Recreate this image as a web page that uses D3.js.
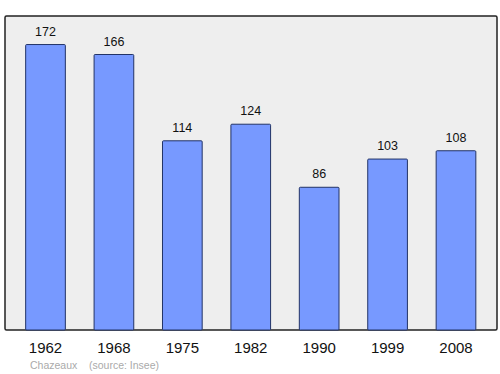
<!DOCTYPE html>
<html>
<head>
<meta charset="utf-8">
<script src="https://cdn.jsdelivr.net/npm/d3@7"></script>
<style>
  body { margin: 0; background: #fff; }
  text { font-family: "Liberation Sans", Arial, sans-serif; }
</style>
</head>
<body>
<div id="chart"></div>
<script>
// data
const years = ["1962", "1968", "1975", "1982", "1990", "1999", "2008"];
const population = [172, 166, 114, 124, 86, 103, 108];
const place_name = "Chazeaux";
const source_text = "(source: Insee)";

// chart properties
let WIDTH = 500;
let HEIGHT = 374;
let FRAME_LEFT = 5;
let FRAME_RIGHT = 497;
let FRAME_TOP = 16;
let FRAME_BOTTOM = 330;

const svg = d3.select("#chart")
    .append("svg")
    .attr("width", WIDTH)
    .attr("height", HEIGHT);

const xScale = d3.scaleBand()
    .domain(years)
    .range([11.3, 490.2])
    .paddingInner(0.42)
    .paddingOuter(0.21);

const yScale = d3.scaleLinear()
    .domain([0, d3.max(population) * 1.1])
    .range([FRAME_BOTTOM, FRAME_TOP]);

// background frame
svg.append("rect")
    .attr("x", FRAME_LEFT)
    .attr("y", FRAME_TOP)
    .attr("width", FRAME_RIGHT - FRAME_LEFT)
    .attr("height", FRAME_BOTTOM - FRAME_TOP)
    .attr("rx", 1.5)
    .attr("fill", "#eeeeee")
    .attr("stroke", "#222")
    .attr("stroke-width", 1.5);

// bars
svg.selectAll(".bar")
    .data(population)
    .enter()
    .append("rect")
    .attr("class", "bar")
    .attr("x", (d, i) => xScale(years[i]))
    .attr("y", d => yScale(d))
    .attr("width", xScale.bandwidth())
    .attr("height", d => yScale(0) - yScale(d))
    .attr("rx", 1)
    .attr("fill", "#7799ff")
    .attr("stroke", "#223366")
    .attr("stroke-width", 1);

// value labels
svg.selectAll(".value")
    .data(population)
    .enter()
    .append("text")
    .attr("class", "value")
    .attr("x", (d, i) => xScale(years[i]) + xScale.bandwidth() / 2)
    .attr("y", d => yScale(d) - 9)
    .attr("text-anchor", "middle")
    .attr("font-size", 12.5)
    .attr("fill", "#111")
    .text(d => d);

// year axis (labels only)
const xAxis = d3.axisBottom(xScale).tickSize(0).tickPadding(12);
const axisG = svg.append("g")
    .attr("transform", `translate(0, ${FRAME_BOTTOM})`)
    .call(xAxis);
axisG.select(".domain").remove();
axisG.selectAll("text")
    .attr("font-size", 15)
    .attr("font-family", "'Liberation Sans', Arial, sans-serif")
    .attr("fill", "#111");

// source line
svg.append("text")
    .attr("x", 30)
    .attr("y", 369)
    .attr("font-size", 10.5)
    .attr("fill", "#aaaaaa")
    .text(place_name);

svg.append("text")
    .attr("x", 89)
    .attr("y", 369)
    .attr("font-size", 10.5)
    .attr("fill", "#aaaaaa")
    .text(source_text);
</script>
</body>
</html>
